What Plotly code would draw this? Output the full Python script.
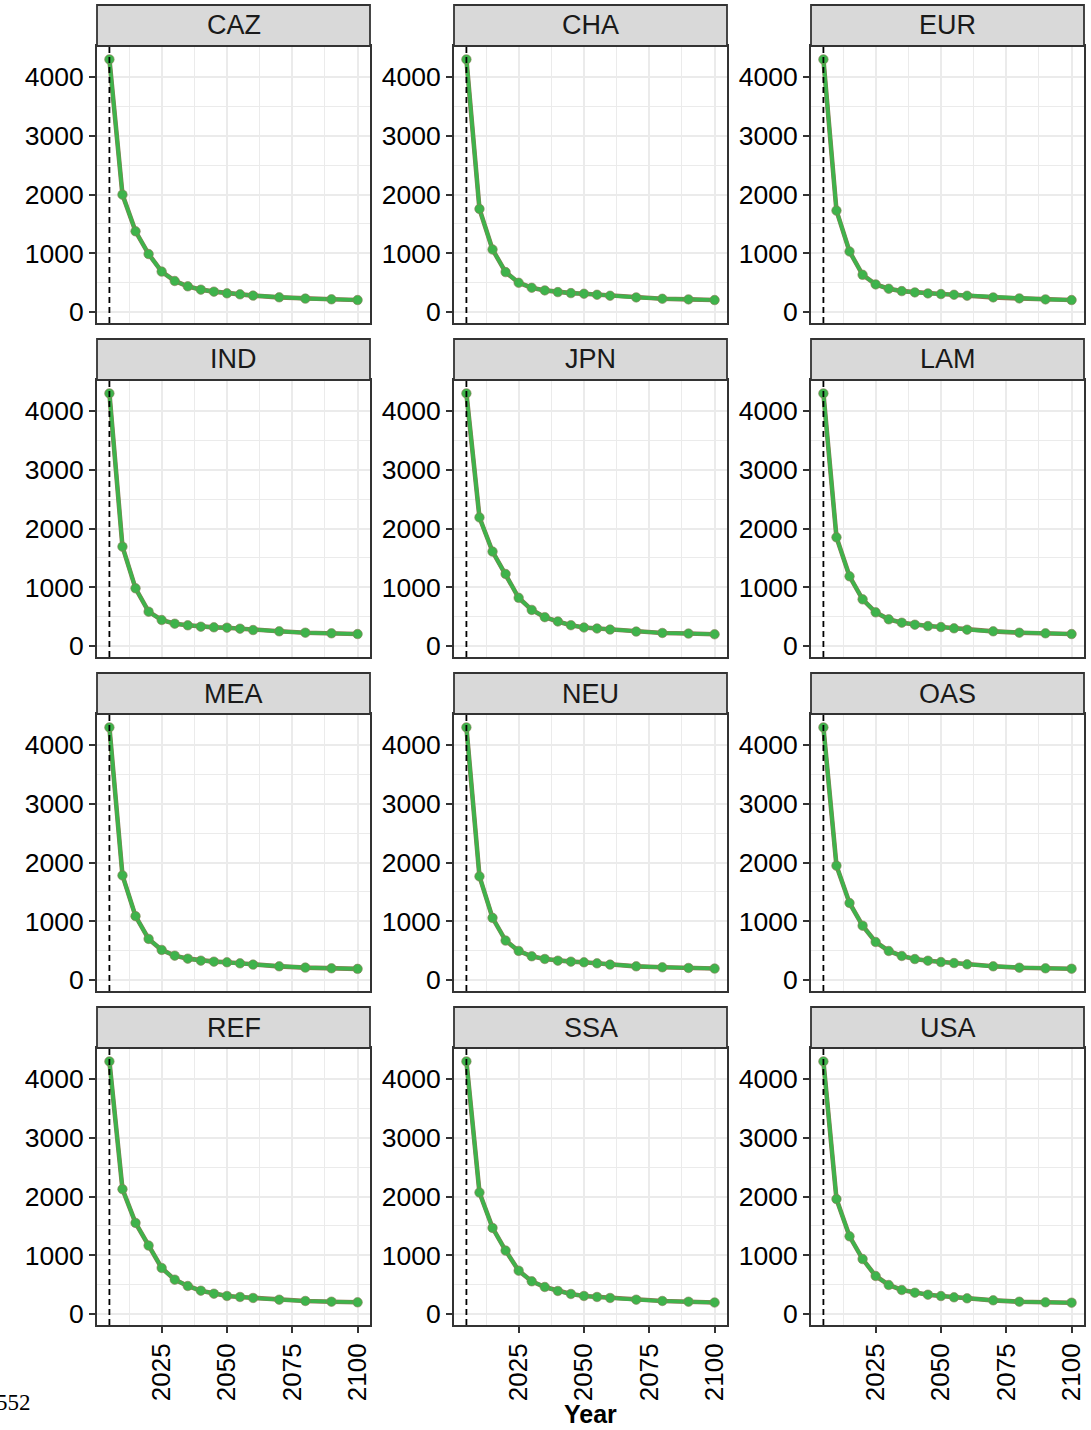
import plotly.graph_objects as go

W, H = 1091, 1430

years = [2005, 2010, 2015, 2020, 2025, 2030, 2035, 2040, 2045, 2050, 2055, 2060, 2070, 2080, 2090, 2100]
regions = ["CAZ", "CHA", "EUR", "IND", "JPN", "LAM", "MEA", "NEU", "OAS", "REF", "SSA", "USA"]

CAZ = [4300, 1998, 1374, 987, 688, 528, 437, 381, 347, 318, 301, 279, 250, 228, 216, 204]
CHA = [4300, 1754, 1064, 679, 498, 413, 368, 339, 322, 311, 294, 277, 249, 226, 215, 204]
EUR = [4300, 1726, 1030, 634, 470, 396, 356, 334, 317, 306, 294, 277, 249, 232, 215, 204]
IND = [4300, 1691, 982, 584, 443, 380, 352, 329, 318, 312, 295, 272, 250, 227, 216, 204]
JPN = [4300, 2188, 1607, 1226, 821, 615, 491, 418, 354, 315, 298, 280, 246, 222, 212, 200]
LAM = [4300, 1850, 1186, 794, 573, 454, 397, 363, 340, 323, 301, 278, 250, 227, 216, 204]
MEA = [4300, 1781, 1087, 700, 512, 415, 364, 330, 313, 302, 284, 262, 233, 211, 199, 190]
NEU = [4300, 1764, 1058, 671, 495, 404, 358, 330, 313, 302, 284, 262, 233, 216, 205, 195]
OAS = [4300, 1946, 1311, 925, 647, 494, 409, 357, 329, 306, 289, 267, 233, 210, 199, 192]
REF = [4300, 2125, 1551, 1165, 784, 585, 477, 397, 346, 307, 290, 273, 244, 222, 210, 199]
SSA = [4300, 2068, 1466, 1079, 738, 557, 460, 392, 341, 307, 290, 273, 244, 222, 210, 196]
USA = [4300, 1957, 1322, 936, 647, 494, 409, 363, 329, 306, 284, 267, 233, 210, 199, 193]

series = {"CAZ": CAZ, "CHA": CHA, "EUR": EUR, "IND": IND, "JPN": JPN, "LAM": LAM,
          "MEA": MEA, "NEU": NEU, "OAS": OAS, "REF": REF, "SSA": SSA, "USA": USA}

x_ticks = [2025, 2050, 2075, 2100]
x_minor = [2012.5, 2037.5, 2062.5, 2087.5]
y_ticks = [0, 1000, 2000, 3000, 4000]
y_minor = [500, 1500, 2500, 3500]
base_year = 2005

GREEN = "#3EB34B"
EDGE = "#8C7A55"
FRAME = "#333333"
GRID = "#EBEBEB"
FONT = "Liberation Sans, Arial, sans-serif"

fig = go.Figure()
layout = dict(width=W, height=H, margin=dict(l=0, r=0, t=0, b=0, autoexpand=False),
              paper_bgcolor="white", plot_bgcolor="white", showlegend=False,
              font=dict(family=FONT, color="black"))
shapes = []
annotations = []

col_x0 = [97, 454, 811]
panel_w = 273
row_strip_top = [5, 339, 673, 1007]
strip_h = 41
panel_h = 277

for i, reg in enumerate(regions):
    r, c = divmod(i, 3)
    n = "" if i == 0 else str(i + 1)
    xa, ya = "x" + n, "y" + n
    x0 = col_x0[c]
    x1 = x0 + panel_w
    st = row_strip_top[r]
    pt = st + strip_h
    pb = pt + panel_h
    bottom = (r == 3)

    layout["xaxis" + n] = dict(
        domain=[x0 / W, x1 / W], anchor=ya, range=[2000.25, 2104.75], automargin=False,
        tickmode="array", tickvals=x_ticks, ticktext=[str(v) for v in x_ticks],
        showticklabels=bottom, ticks="outside" if bottom else "", ticklen=6,
        tickwidth=1.5, tickcolor=FRAME, tickangle=-90,
        tickfont=dict(size=26, color="black", family=FONT),
        showgrid=True, gridcolor=GRID, gridwidth=2,
        minor=dict(tickmode="array", tickvals=x_minor, showgrid=True, gridcolor=GRID,
                   gridwidth=1.3, ticks=""),
        showline=True, mirror=True, linecolor=FRAME, linewidth=1.8, zeroline=False,
        fixedrange=True,
    )
    layout["yaxis" + n] = dict(
        domain=[1 - pb / H, 1 - pt / H], anchor=xa, range=[-187, 4528], automargin=False,
        tickmode="array", tickvals=y_ticks, ticktext=[str(v) for v in y_ticks],
        ticks="outside", ticklen=6, tickwidth=1.5, tickcolor=FRAME,
        tickfont=dict(size=26.5, color="black", family=FONT),
        showgrid=True, gridcolor=GRID, gridwidth=2,
        minor=dict(tickmode="array", tickvals=y_minor, showgrid=True, gridcolor=GRID,
                   gridwidth=1.3, ticks=""),
        showline=True, mirror=True, linecolor=FRAME, linewidth=1.8, zeroline=False,
        fixedrange=True,
    )

    # dashed reference line at base year
    shapes.append(dict(type="line", xref=xa, yref=ya + " domain", x0=base_year, x1=base_year,
                       y0=0, y1=1, line=dict(color="black", width=1.8, dash="6px,4px"),
                       layer="above"))

    vals = series[reg]
    fig.add_trace(go.Scatter(x=years, y=vals, xaxis=xa, yaxis=ya, mode="lines",
                             line=dict(color=EDGE, width=4.6), hoverinfo="skip"))
    fig.add_trace(go.Scatter(x=years, y=vals, xaxis=xa, yaxis=ya, mode="lines+markers",
                             line=dict(color=GREEN, width=3.6),
                             marker=dict(color=GREEN, size=9.5, line=dict(color=EDGE, width=0.6)),
                             name=reg))

    # strip
    shapes.append(dict(type="rect", xref="paper", yref="paper",
                       x0=x0 / W, x1=x1 / W, y0=1 - pt / H, y1=1 - st / H,
                       fillcolor="#D9D9D9", line=dict(color=FRAME, width=1.8), layer="above"))
    annotations.append(dict(text=reg, xref="paper", yref="paper",
                            x=(x0 + x1) / 2 / W, y=1 - (st + strip_h / 2) / H,
                            xanchor="center", yanchor="middle", showarrow=False,
                            font=dict(size=27, color="#1A1A1A", family=FONT)))

annotations.append(dict(text="<b>Year</b>", xref="paper", yref="paper",
                        x=590.5 / W, y=1 - 1414 / H, xanchor="center", yanchor="middle",
                        showarrow=False, font=dict(size=25, color="black", family=FONT)))
annotations.append(dict(text="552", xref="paper", yref="paper",
                        x=33 / W, y=1 - 1402 / H, xanchor="right", yanchor="middle",
                        showarrow=False,
                        font=dict(size=23, color="black", family="Liberation Serif, DejaVu Serif, serif")))

layout["shapes"] = shapes
layout["annotations"] = annotations
fig.update_layout(**layout)
fig.write_html("out.html", config={"displayModeBar": False},
               post_script="document.body.style.margin='0';document.body.style.padding='0';document.body.style.overflow='hidden';")
